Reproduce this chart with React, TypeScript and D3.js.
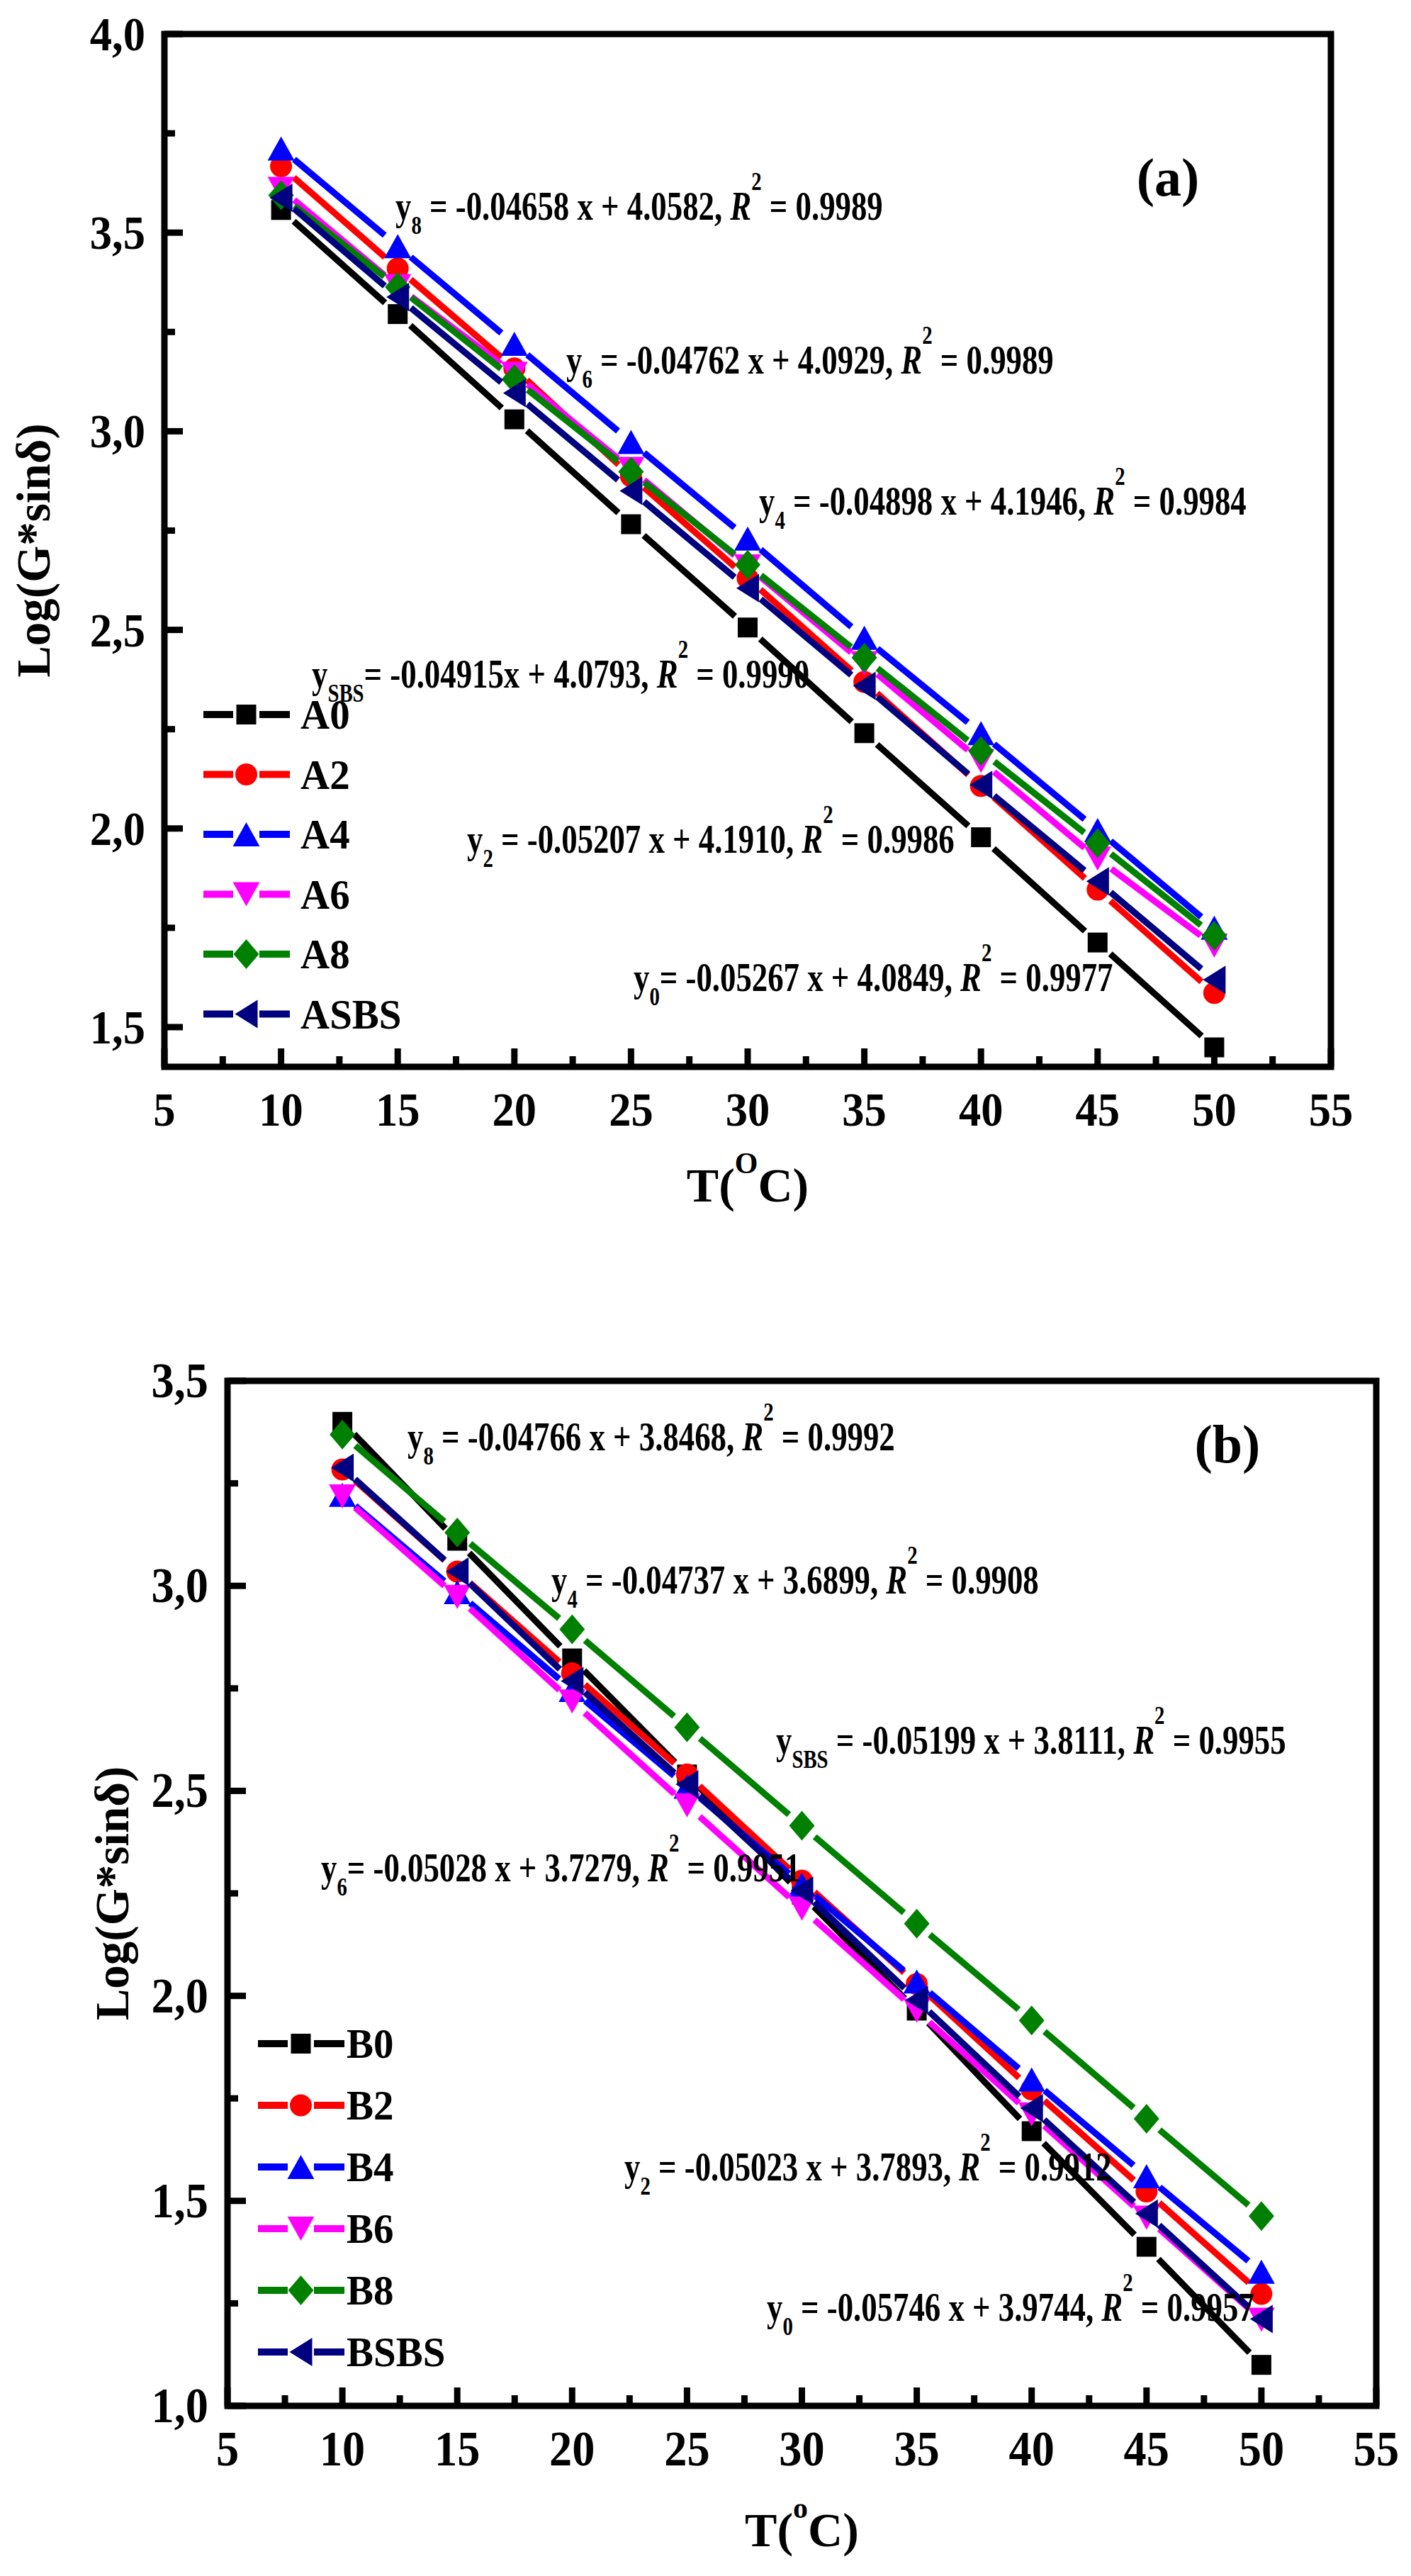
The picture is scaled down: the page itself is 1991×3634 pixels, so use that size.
import * as d3 from 'd3';

// ---- data ----
const temps = [10, 15, 20, 25, 30, 35, 40, 45, 50];

const A0 = [3.557, 3.295, 3.030, 2.766, 2.506, 2.240, 1.978, 1.713, 1.449];
const A2 = [3.667, 3.410, 3.158, 2.887, 2.630, 2.369, 2.107, 1.846, 1.586];
const A4 = [3.712, 3.466, 3.220, 2.973, 2.730, 2.480, 2.240, 1.996, 1.750];
const A6 = [3.610, 3.365, 3.145, 2.905, 2.660, 2.416, 2.170, 1.924, 1.705];
const A8 = [3.594, 3.363, 3.131, 2.898, 2.664, 2.430, 2.195, 1.963, 1.730];
const ASBS = [3.588, 3.338, 3.096, 2.850, 2.605, 2.359, 2.110, 1.867, 1.619];

const B0 = [3.400, 3.110, 2.823, 2.540, 2.247, 1.964, 1.670, 1.388, 1.100];
const B2 = [3.284, 3.035, 2.787, 2.540, 2.281, 2.029, 1.772, 1.523, 1.273];
const B4 = [3.222, 2.985, 2.746, 2.510, 2.271, 2.035, 1.796, 1.560, 1.327];
const B6 = [3.218, 2.973, 2.718, 2.465, 2.213, 1.964, 1.711, 1.459, 1.210];
const B8 = [3.369, 3.130, 2.894, 2.655, 2.415, 2.176, 1.940, 1.700, 1.463];
const BSBS = [3.288, 3.035, 2.768, 2.516, 2.257, 1.990, 1.726, 1.469, 1.212];

const namesA = ['A0', 'A2', 'A4', 'A6', 'A8', 'ASBS'];
const namesB = ['B0', 'B2', 'B4', 'B6', 'B8', 'BSBS'];
const colors = ['#000000', '#ff0000', '#0000ff', '#ff00ff', '#008000', '#000080'];
const shapes = ['square', 'circle', 'up', 'down', 'diamond', 'left'];

const xTicks = [5, 10, 15, 20, 25, 30, 35, 40, 45, 50, 55];
const yTicksA = [1.5, 2.0, 2.5, 3.0, 3.5, 4.0];
const yTicksB = [1.0, 1.5, 2.0, 2.5, 3.0, 3.5];

// fitted equations printed on the chart
const eqA = [
  { sub: '8', body: ' = -0.04658 x + 4.0582, ', r2: ' = 0.9989', x: 558, y: 310 },
  { sub: '6', body: ' = -0.04762 x + 4.0929, ', r2: ' = 0.9989', x: 799, y: 527 },
  { sub: '4', body: ' = -0.04898 x + 4.1946, ', r2: ' = 0.9984', x: 1071, y: 726 },
  { sub: 'SBS', body: '= -0.04915x + 4.0793, ', r2: ' = 0.9990', x: 440, y: 970 },
  { sub: '2', body: ' = -0.05207 x + 4.1910, ', r2: ' = 0.9986', x: 659, y: 1203 },
  { sub: '0', body: '= -0.05267 x + 4.0849, ', r2: ' = 0.9977', x: 894, y: 1398 },
];
const eqB = [
  { sub: '8', body: ' = -0.04766 x + 3.8468, ', r2: ' = 0.9992', x: 575, y: 2046 },
  { sub: '4', body: ' = -0.04737 x + 3.6899, ', r2: ' = 0.9908', x: 778, y: 2248 },
  { sub: 'SBS', body: ' = -0.05199 x + 3.8111, ', r2: ' = 0.9955', x: 1095, y: 2474 },
  { sub: '6', body: '= -0.05028 x + 3.7279, ', r2: ' = 0.9951', x: 453, y: 2654 },
  { sub: '2', body: ' = -0.05023 x + 3.7893, ', r2: ' = 0.9912', x: 881, y: 3076 },
  { sub: '0', body: ' = -0.05746 x + 3.9744, ', r2: ' = 0.9957', x: 1082, y: 3274 },
];

const FONT = '"Liberation Serif", "Times New Roman", serif';

function markerPath(shape: string) {
  switch (shape) {
    case 'square': return 'M-14,-14h28v28h-28Z';
    case 'up': return 'M0,-17L19,17L-19,17Z';
    case 'down': return 'M0,17L19,-17L-19,-17Z';
    case 'diamond': return 'M0,-21L18,0L0,21L-18,0Z';
    case 'left': return 'M-16,0L16,-20L16,20Z';
    default: return '';
  }
}

function Marker({ shape, color, x, y }: any) {
  if (shape === 'circle') return <circle cx={x} cy={y} r={15.5} fill={color} />;
  return <path d={markerPath(shape)} transform={`translate(${x},${y})`} fill={color} />;
}

const fmt = (v: number) => d3.format('.1f')(v).replace('.', ',');

function Panel({ series, names, xRange, yRange, yDomain, yTicks, eqs, tag, tagPos, legend, yTitleX, xLabelY, xTitleY, degree, tickSize }: any) {
  const x = d3.scaleLinear().domain([5, 55]).range(xRange);
  const y = d3.scaleLinear().domain(yDomain).range(yRange);
  const [x0, x1] = xRange;
  const [yb, yt] = yRange;
  const gap = 24;

  const minorX = d3.range(7.5, 55, 5);
  const minorY = yTicks.slice(0, -1).map((t: number) => t + 0.25);

  return (
    <g fontFamily={FONT} fontWeight="bold">
      {/* series: segments stop short of the symbols */}
      {series.map((vals: number[], si: number) => {
        const pts = temps.map((t, i) => [x(t), y(vals[i])]);
        return (
          <g key={si}>
            {d3.pairs(pts).map(([p, q], k) => {
              const dx = q[0] - p[0];
              const dy = q[1] - p[1];
              const len = Math.hypot(dx, dy);
              const ux = dx / len, uy = dy / len;
              return (
                <line key={k}
                  x1={p[0] + ux * gap} y1={p[1] + uy * gap}
                  x2={q[0] - ux * gap} y2={q[1] - uy * gap}
                  stroke={colors[si]} strokeWidth={9} />
              );
            })}
            {pts.map((p, k) => (
              <Marker key={k} shape={shapes[si]} color={colors[si]} x={p[0]} y={p[1]} />
            ))}
          </g>
        );
      })}

      {/* frame */}
      <rect x={x0} y={yt} width={x1 - x0} height={yb - yt} fill="none" stroke="#000" strokeWidth={9} />

      {/* x ticks */}
      {xTicks.map(t => (
        <line key={'xm' + t} x1={x(t)} x2={x(t)} y1={yb} y2={yb - 26} stroke="#000" strokeWidth={9} />
      ))}
      {minorX.map(t => (
        <line key={'xn' + t} x1={x(t)} x2={x(t)} y1={yb} y2={yb - 15} stroke="#000" strokeWidth={9} />
      ))}
      {xTicks.map(t => (
        <g key={'xl' + t} transform={`translate(${x(t)},${xLabelY}) scale(0.92,1)`}>
          <text textAnchor="middle" fontSize={tickSize}>{t}</text>
        </g>
      ))}

      {/* y ticks */}
      {yTicks.map((t: number) => (
        <line key={'ym' + t} x1={x0} x2={x0 + 26} y1={y(t)} y2={y(t)} stroke="#000" strokeWidth={9} />
      ))}
      {minorY.map((t: number) => (
        <line key={'yn' + t} x1={x0} x2={x0 + 15} y1={y(t)} y2={y(t)} stroke="#000" strokeWidth={9} />
      ))}
      {yTicks.map((t: number) => (
        <g key={'yl' + t} transform={`translate(${x0 - 27},${y(t) + 23}) scale(0.92,1)`}>
          <text textAnchor="end" fontSize={tickSize}>{fmt(t)}</text>
        </g>
      ))}

      {/* axis titles */}
      <text transform={`translate(${yTitleX},${(yb + yt) / 2}) rotate(-90)`} textAnchor="middle" fontSize={67}>
        Log(G*sinδ)
      </text>
      <text x={(x0 + x1) / 2} y={xTitleY} textAnchor="middle" fontSize={68}>
        T(<tspan fontSize={42} dy={-40}>{degree}</tspan><tspan dy={40}>C)</tspan>
      </text>

      {/* panel tag */}
      <text x={tagPos[0]} y={tagPos[1]} textAnchor="middle" fontSize={76}>{tag}</text>

      {/* equations */}
      {eqs.map((e: any, i: number) => (
        <g key={'eq' + i} transform={`translate(${e.x},${e.y}) scale(0.8,1)`}>
          <text fontSize={56}>
            y<tspan fontSize={36} dy={20}>{e.sub}</tspan>
            <tspan dy={-20}>{e.body}</tspan>
            <tspan fontStyle="italic">R</tspan>
            <tspan fontSize={36} dy={-42}>2</tspan>
            <tspan dy={42}>{e.r2}</tspan>
          </text>
        </g>
      ))}

      {/* legend */}
      {names.map((n: string, i: number) => {
        const ry = legend.y0 + i * legend.step;
        const lx = legend.x;
        return (
          <g key={'lg' + i}>
            <line x1={lx} x2={lx + 42} y1={ry} y2={ry} stroke={colors[i]} strokeWidth={10} />
            <line x1={lx + 79} x2={lx + 122} y1={ry} y2={ry} stroke={colors[i]} strokeWidth={10} />
            <Marker shape={shapes[i]} color={colors[i]} x={lx + 60.5} y={ry} />
            <g transform={`translate(${legend.tx},${ry + 20}) scale(0.95,1)`}>
              <text fontSize={60}>{n}</text>
            </g>
          </g>
        );
      })}
    </g>
  );
}

export default function App() {
  return (
    <svg width={1991} height={3634} style={{ position: 'absolute', left: 0, top: 0, background: '#fff' }}>
      <rect width={1991} height={3634} fill="#fff" />
      <Panel
        series={[A0, A2, A4, A6, A8, ASBS]}
        names={namesA}
        xRange={[232, 1878]}
        yRange={[1505, 48]}
        yDomain={[1.4, 4.0]}
        yTicks={yTicksA}
        eqs={eqA}
        tag="(a)"
        tagPos={[1648, 276]}
        legend={{ x: 287, tx: 424, y0: 1008, step: 84.5 }}
        yTitleX={70}
        xLabelY={1588}
        xTitleY={1695}
        degree="O"
        tickSize={68}
      />
      <Panel
        series={[B0, B2, B4, B6, B8, BSBS]}
        names={namesB}
        xRange={[321, 1942]}
        yRange={[3394, 1948]}
        yDomain={[1.0, 3.5]}
        yTicks={yTicksB}
        eqs={eqB}
        tag="(b)"
        tagPos={[1732, 2063]}
        legend={{ x: 364, tx: 489, y0: 2883, step: 87 }}
        yTitleX={181}
        xLabelY={3478}
        xTitleY={3592}
        degree="o"
        tickSize={70}
      />
    </svg>
  );
}
